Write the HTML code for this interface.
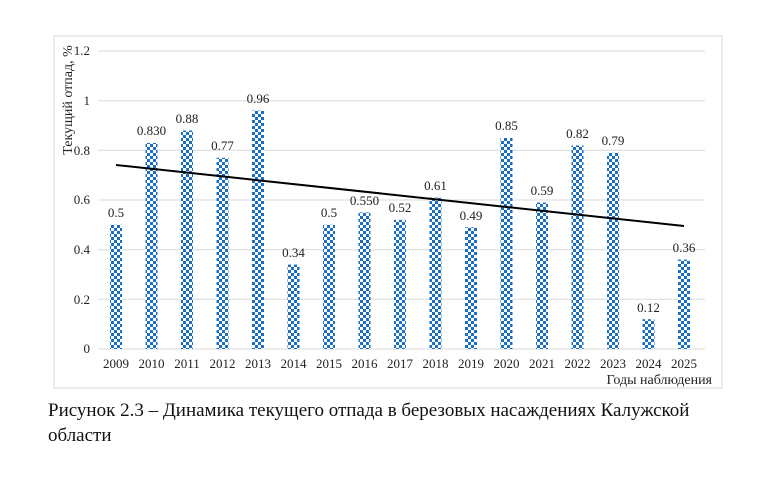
<!DOCTYPE html><html><head><meta charset="utf-8"><style>body{margin:0;background:#fff;width:766px;height:494px;overflow:hidden}</style></head><body>
<svg width="766" height="494" xmlns="http://www.w3.org/2000/svg" font-family="Liberation Serif, serif">
<defs><pattern id="ch" width="6" height="6" patternUnits="userSpaceOnUse"><rect width="6" height="6" fill="#fff"/><rect width="3" height="3" fill="#1a6fc4"/><rect x="3" y="3" width="3" height="3" fill="#1a6fc4"/></pattern></defs>
<rect x="54" y="36" width="668" height="352" fill="none" stroke="#d9d9d9"/>
<g stroke="#d9d9d9">
<line x1="98" x2="705" y1="51" y2="51"/><line x1="98" x2="705" y1="100.7" y2="100.7"/><line x1="98" x2="705" y1="150.3" y2="150.3"/><line x1="98" x2="705" y1="200" y2="200"/><line x1="98" x2="705" y1="249.7" y2="249.7"/><line x1="98" x2="705" y1="299.3" y2="299.3"/><line x1="98" x2="705" y1="349" y2="349"/></g>
<g font-size="13" text-anchor="end" fill="#222"><text x="90" y="55">1.2</text><text x="90" y="105">1</text><text x="90" y="155">0.8</text><text x="90" y="204">0.6</text><text x="90" y="254">0.4</text><text x="90" y="304">0.2</text><text x="90" y="353">0</text></g>
<text transform="translate(72,100) rotate(-90)" font-size="14" text-anchor="middle" fill="#222">Текущий отпад, %</text>
<g fill="url(#ch)">
<rect x="110" y="224.85" width="12" height="124.15"/>
<rect x="145.5" y="142.91" width="12" height="206.09"/>
<rect x="181" y="130.5" width="12" height="218.5"/>
<rect x="216.5" y="157.81" width="12" height="191.19"/>
<rect x="252" y="110.63" width="12" height="238.37"/>
<rect x="287.5" y="264.58" width="12" height="84.42"/>
<rect x="323" y="224.85" width="12" height="124.15"/>
<rect x="358.5" y="212.43" width="12" height="136.57"/>
<rect x="394" y="219.88" width="12" height="129.12"/>
<rect x="429.5" y="197.54" width="12" height="151.46"/>
<rect x="465" y="227.33" width="12" height="121.67"/>
<rect x="500.5" y="137.94" width="12" height="211.06"/>
<rect x="536" y="202.5" width="12" height="146.5"/>
<rect x="571.5" y="145.39" width="12" height="203.61"/>
<rect x="607" y="152.84" width="12" height="196.16"/>
<rect x="642.5" y="319.2" width="12" height="29.8"/>
<rect x="678" y="259.61" width="12" height="89.39"/>
</g>
<g font-size="13" text-anchor="middle" fill="#222">
<text x="116" y="217">0.5</text><text x="151.5" y="135">0.830</text><text x="187" y="123">0.88</text><text x="222.5" y="150">0.77</text><text x="258" y="103">0.96</text><text x="293.5" y="257">0.34</text><text x="329" y="217">0.5</text><text x="364.5" y="205">0.550</text><text x="400" y="212">0.52</text><text x="435.5" y="190">0.61</text><text x="471" y="220">0.49</text><text x="506.5" y="130">0.85</text><text x="542" y="195">0.59</text><text x="577.5" y="138">0.82</text><text x="613" y="145">0.79</text><text x="648.5" y="312">0.12</text><text x="684" y="252">0.36</text>
<text x="116" y="368">2009</text><text x="151.5" y="368">2010</text><text x="187" y="368">2011</text><text x="222.5" y="368">2012</text><text x="258" y="368">2013</text><text x="293.5" y="368">2014</text><text x="329" y="368">2015</text><text x="364.5" y="368">2016</text><text x="400" y="368">2017</text><text x="435.5" y="368">2018</text><text x="471" y="368">2019</text><text x="506.5" y="368">2020</text><text x="542" y="368">2021</text><text x="577.5" y="368">2022</text><text x="613" y="368">2023</text><text x="648.5" y="368">2024</text><text x="684" y="368">2025</text>
</g>
<line x1="116" y1="165" x2="684" y2="226" stroke="#000" stroke-width="2"/>
<text x="712" y="384" font-size="14" text-anchor="end" fill="#222">Годы наблюдения</text>
<text x="48" y="416" font-size="19" fill="#111">Рисунок 2.3 – Динамика текущего отпада в березовых насаждениях Калужской</text>
<text x="48" y="441" font-size="19" fill="#111">области</text>
</svg></body></html>
